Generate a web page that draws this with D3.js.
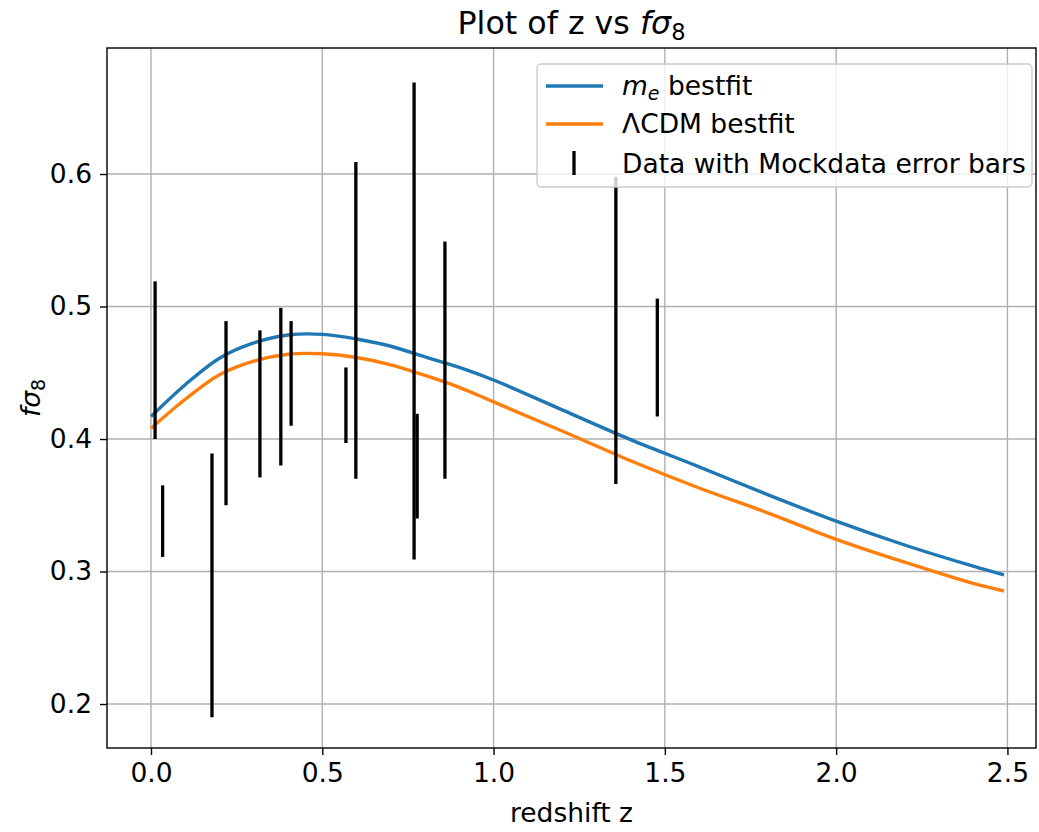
<!DOCTYPE html>
<html>
<head>
<meta charset="utf-8">
<script src="https://cdn.jsdelivr.net/npm/d3@7"></script>
<style>
  body { margin: 0; background: #fff; }
  svg text { font-family: "DejaVu Sans", sans-serif; fill: #000; }
</style>
</head>
<body>
<svg id="chart" width="1039" height="832"></svg>
<script>
// curves (z, f sigma8)
const curveZ = [0, 0.1, 0.2, 0.3, 0.4, 0.5, 0.6, 0.7, 0.8, 0.9, 1.0, 1.2, 1.4, 1.6, 1.8, 2.0, 2.2, 2.4, 2.49];
const meBestfit = [0.417, 0.441, 0.461, 0.4725, 0.4785, 0.479, 0.4755, 0.470, 0.462, 0.454, 0.4445,
  0.422, 0.3995, 0.379, 0.358, 0.338, 0.320, 0.304, 0.2974];
const lcdmBestfit = [0.408, 0.430, 0.4485, 0.4588, 0.464, 0.4643, 0.4615, 0.456, 0.448, 0.439, 0.428,
  0.406, 0.3836, 0.363, 0.3443, 0.3243, 0.307, 0.291, 0.2853];

// mock data error bars
const dataZ = [0.012, 0.034, 0.178, 0.219, 0.318, 0.379, 0.409, 0.569, 0.598, 0.768, 0.777, 0.858, 1.357, 1.478];
const dataLow = [0.400, 0.311, 0.190, 0.350, 0.371, 0.380, 0.410, 0.397, 0.370, 0.309, 0.340, 0.370, 0.366, 0.417];
const dataHigh = [0.519, 0.365, 0.389, 0.489, 0.482, 0.499, 0.489, 0.454, 0.609, 0.669, 0.419, 0.549, 0.598, 0.506];

const xTicks = [0.0, 0.5, 1.0, 1.5, 2.0, 2.5];
const yTicks = [0.2, 0.3, 0.4, 0.5, 0.6];

const blue = '#1f77b4';
const orange = '#ff7f0e';

var svg = d3.select('#chart');
var box = {left: 107, right: 1036, top: 48, bottom: 748};
var fontSize = '26.5px';

var x = d3.scaleLinear()
  .domain([-0.1284, 2.5834])
  .range([box.left, box.right]);

var y = d3.scaleLinear()
  .domain([0.1668, 0.6951])
  .range([box.bottom, box.top]);

svg.append('defs').append('clipPath')
    .attr('id', 'clip')
  .append('rect')
    .attr('x', box.left)
    .attr('y', box.top)
    .attr('width', box.right - box.left)
    .attr('height', box.bottom - box.top);

// grid
var grid = svg.append('g').attr('stroke', '#b0b0b0').attr('stroke-width', 1.4);
grid.selectAll('line.gx').data(xTicks).join('line')
  .attr('x1', d => x(d)).attr('x2', d => x(d))
  .attr('y1', box.top).attr('y2', box.bottom);
grid.selectAll('line.gy').data(yTicks).join('line')
  .attr('class', 'gy')
  .attr('x1', box.left).attr('x2', box.right)
  .attr('y1', d => y(d)).attr('y2', d => y(d));

// bestfit curves
var plot = svg.append('g').attr('clip-path', 'url(#clip)');
var line = d3.line()
  .x((d, i) => x(curveZ[i]))
  .y(d => y(d))
  .curve(d3.curveCatmullRom.alpha(0.5));

plot.append('path')
  .datum(meBestfit)
  .attr('fill', 'none')
  .attr('stroke', blue)
  .attr('stroke-width', 3.4)
  .attr('d', line);

plot.append('path')
  .datum(lcdmBestfit)
  .attr('fill', 'none')
  .attr('stroke', orange)
  .attr('stroke-width', 3.4)
  .attr('d', line);

// error bars
plot.selectAll('line.err').data(dataZ).join('line')
  .attr('class', 'err')
  .attr('x1', d => x(d)).attr('x2', d => x(d))
  .attr('y1', (d, i) => y(dataLow[i]))
  .attr('y2', (d, i) => y(dataHigh[i]))
  .attr('stroke', '#000')
  .attr('stroke-width', 3.3);

// axes
var xAxis = svg.append('g')
  .attr('transform', 'translate(0,' + box.bottom + ')')
  .call(d3.axisBottom(x).tickValues(xTicks).tickFormat(d3.format('.1f')).tickSize(7).tickPadding(8));
var yAxis = svg.append('g')
  .attr('transform', 'translate(' + box.left + ',0)')
  .call(d3.axisLeft(y).tickValues(yTicks).tickFormat(d3.format('.1f')).tickSize(7).tickPadding(8));

[xAxis, yAxis].forEach(function (a) {
  a.select('.domain').remove();
  a.selectAll('.tick line').attr('stroke', '#000').attr('stroke-width', 1.4);
  a.selectAll('.tick text')
    .style('font-family', '"DejaVu Sans", sans-serif')
    .style('font-size', fontSize);
});

svg.append('rect')
  .attr('x', box.left).attr('y', box.top)
  .attr('width', box.right - box.left)
  .attr('height', box.bottom - box.top)
  .attr('fill', 'none')
  .attr('stroke', '#000')
  .attr('stroke-width', 1.4);

// title
var title = svg.append('text')
  .attr('x', (box.left + box.right) / 2)
  .attr('y', 34)
  .attr('text-anchor', 'middle')
  .style('font-size', '31.7px');
title.append('tspan').text('Plot of z vs ');
title.append('tspan').attr('font-style', 'italic').text('fσ');
title.append('tspan').attr('dy', 6).style('font-size', '22.5px').text('8');

// axis labels
svg.append('text')
  .attr('x', (box.left + box.right) / 2)
  .attr('y', 822)
  .attr('text-anchor', 'middle')
  .style('font-size', fontSize)
  .text('redshift z');

var ylab = svg.append('text')
  .attr('transform', 'translate(40,' + ((box.top + box.bottom) / 2) + ') rotate(-90)')
  .attr('text-anchor', 'middle')
  .style('font-size', fontSize);
ylab.append('tspan').attr('font-style', 'italic').text('fσ');
ylab.append('tspan').attr('dy', 5).style('font-size', '19px').text('8');

// legend
var legend = svg.append('g');
legend.append('rect')
  .attr('x', 537).attr('y', 64)
  .attr('width', 495).attr('height', 123)
  .attr('rx', 4)
  .attr('fill', '#fff').attr('fill-opacity', 0.8)
  .attr('stroke', '#cccccc').attr('stroke-width', 1.4);

legend.append('line')
  .attr('x1', 546).attr('x2', 603).attr('y1', 86).attr('y2', 86)
  .attr('stroke', blue).attr('stroke-width', 3.4);
legend.append('line')
  .attr('x1', 546).attr('x2', 603).attr('y1', 124).attr('y2', 124)
  .attr('stroke', orange).attr('stroke-width', 3.4);
legend.append('line')
  .attr('x1', 574).attr('x2', 574).attr('y1', 151).attr('y2', 175)
  .attr('stroke', '#000').attr('stroke-width', 3.3);

var t1 = legend.append('text').attr('x', 622).attr('y', 95).style('font-size', fontSize);
t1.append('tspan').attr('font-style', 'italic').text('m');
t1.append('tspan').attr('font-style', 'italic').attr('dy', 5).style('font-size', '19px').text('e');
t1.append('tspan').attr('dy', -5).text(' bestfit');

legend.append('text').attr('x', 622).attr('y', 133).style('font-size', fontSize).text('ΛCDM bestfit');
legend.append('text').attr('x', 622).attr('y', 173).style('font-size', fontSize).text('Data with Mockdata error bars');
</script>
</body>
</html>
